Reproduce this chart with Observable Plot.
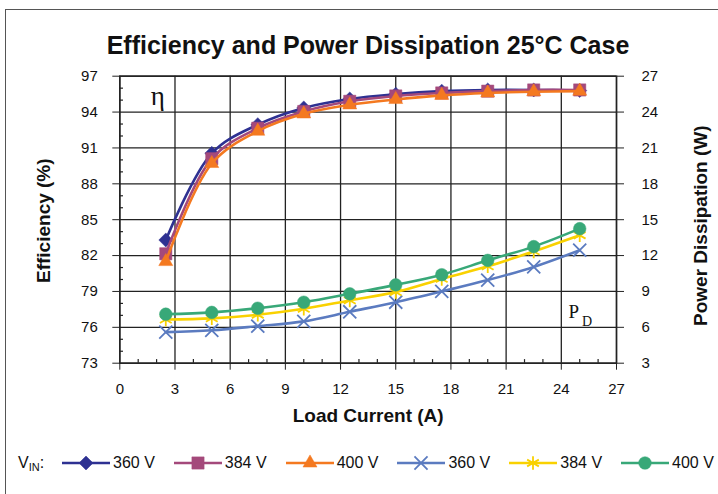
<!DOCTYPE html>
<html><head><meta charset="utf-8">
<script src="https://cdn.jsdelivr.net/npm/d3@7"></script>
<script src="https://cdn.jsdelivr.net/npm/@observablehq/plot@0.6"></script>
<style>
body{margin:0;background:#fff;font-family:"Liberation Sans",Arial,sans-serif;color:#111;}
#wrap{position:relative;width:718px;height:494px;overflow:hidden;background:#fff;}
#box{position:absolute;left:5px;top:9px;width:800px;height:600px;border:1.5px solid #555;}
#title{position:absolute;top:33px;left:0;width:736px;text-align:center;font-weight:bold;font-size:25px;line-height:25px;}
#chart{position:absolute;left:0;top:60px;}
#legend{position:absolute;left:18px;top:455px;display:flex;align-items:center;height:16px;font-size:16px;white-space:nowrap;}
#legend .vin{width:38px;margin-right:6px;}
#legend .vin sub{font-size:11px;vertical-align:-3px;}
#legend .item{display:flex;align-items:center;margin-right:19px;}
#legend .item span{margin-left:3px;}
</style></head>
<body>
<div id="wrap">
  <div id="box"></div>
  <div id="title">Efficiency and Power Dissipation 25°C Case</div>
  <div id="chart"></div>
  <div id="legend"></div>
</div>
<script>
// ---- data ----
const current = [2.5, 5, 7.5, 10, 12.5, 15, 17.5, 20, 22.5, 25];
const eff360 = [83.3, 90.55, 92.95, 94.35, 95.1, 95.5, 95.75, 95.85, 95.85, 95.8];
const eff384 = [82.15, 90.1, 92.65, 94.05, 94.9, 95.35, 95.6, 95.75, 95.85, 95.85];
const eff400 = [81.5, 89.7, 92.4, 93.85, 94.6, 95.05, 95.4, 95.6, 95.7, 95.75];
const pd360 = [5.6, 5.75, 6.1, 6.5, 7.3, 8.1, 9.0, 9.95, 11.05, 12.45];
const pd384 = [6.65, 6.75, 7.05, 7.55, 8.25, 8.95, 10.05, 11.1, 12.35, 13.7];
const pd400 = [7.1, 7.25, 7.6, 8.1, 8.8, 9.55, 10.4, 11.6, 12.75, 14.25];
const xTicks = [0, 3, 6, 9, 12, 15, 18, 21, 24, 27];
const effTicks = [73, 76, 79, 82, 85, 88, 91, 94, 97];
const pdTicks = [3, 6, 9, 12, 15, 18, 21, 24, 27];
const legendLabels = ["360 V", "384 V", "400 V", "360 V", "384 V", "400 V"];

// power dissipation axis shares the same span (24 units) as the efficiency axis
const pdOffset = effTicks[0] - pdTicks[0]; // 70

const series = [
  {label: legendLabels[0], values: eff360, kind: "eff", color: "#2E3192", symbol: d3.symbolDiamond2, r: 6.3, filled: true},
  {label: legendLabels[1], values: eff384, kind: "eff", color: "#A4497B", symbol: d3.symbolSquare, r: 6.9, filled: true},
  {label: legendLabels[2], values: eff400, kind: "eff", color: "#F47920", symbol: d3.symbolTriangle, r: 5.2, filled: true},
  {label: legendLabels[3], values: pd360, kind: "pd", color: "#5B7BC0", symbol: d3.symbolTimes, r: 6, filled: false},
  {label: legendLabels[4], values: pd384, kind: "pd", color: "#F9D100", symbol: d3.symbolAsterisk, r: 6.4, filled: false},
  {label: legendLabels[5], values: pd400, kind: "pd", color: "#38A878", symbol: d3.symbolCircle, r: 6.3, filled: true}
];

const minorY = d3.range(73, 98).filter(v => !effTicks.includes(v));
const minorX = d3.range(0, 28).filter(v => !xTicks.includes(v));

const marks = [
  Plot.gridX(xTicks, {stroke: "#222", strokeOpacity: 1, strokeWidth: 1.3}),
  Plot.gridY(effTicks, {stroke: "#222", strokeOpacity: 1, strokeWidth: 1.3}),
  Plot.ruleY(minorY, {x1: 0, x2: 0.2, stroke: "#222", strokeWidth: 1.2}),
  Plot.ruleX(minorX, {y1: effTicks[0], y2: effTicks[0] + 0.3, stroke: "#222", strokeWidth: 1.2}),
  Plot.axisX(xTicks, {tickSize: 7, tickPadding: 13, fontSize: 15, label: null, stroke: "#222"}),
  Plot.axisY(effTicks, {anchor: "left", tickSize: 7, tickPadding: 15, fontSize: 15, label: null, stroke: "#222"}),
  Plot.axisY(effTicks, {anchor: "right", tickSize: 7, tickPadding: 18, fontSize: 15, label: null, stroke: "#222",
    tickFormat: d => d - pdOffset}),
  Plot.frame({stroke: "#222", strokeWidth: 1.5})
];

for (const s of series) {
  const rows = current.map((c, i) => ({x: c, y: s.kind === "eff" ? s.values[i] : s.values[i] + pdOffset}));
  marks.push(Plot.line(rows, {x: "x", y: "y", stroke: s.color, strokeWidth: 2.6, curve: "catmull-rom"}));
  marks.push(Plot.dot(rows, {x: "x", y: "y", symbol: s.symbol, r: s.r,
    fill: s.filled ? s.color : "none", stroke: s.color, strokeWidth: s.filled ? 0.5 : 1.8}));
}

marks.push(
  Plot.text(["Efficiency (%)"], {frameAnchor: "left", textAnchor: "middle", dx: -76, dy: 1, rotate: -90, fontSize: 19, fontWeight: "bold", fill: "#111"}),
  Plot.text(["Power Dissipation (W)"], {frameAnchor: "right", textAnchor: "middle", dx: 84, dy: 6, rotate: -90, fontSize: 19, fontWeight: "bold", fill: "#111"}),
  Plot.text(["Load Current (A)"], {frameAnchor: "bottom", textAnchor: "middle", dx: 0, dy: 59, fontSize: 19, fontWeight: "bold", fill: "#111"}),
  Plot.text(["η"], {frameAnchor: "top-left", dx: 31, dy: 9.7, textAnchor: "start", fontSize: 27, fontFamily: "Liberation Serif, serif", fill: "#111"}),
  Plot.text(["P"], {frameAnchor: "bottom-right", dx: -48, dy: -44.8, textAnchor: "start", fontSize: 19, fontFamily: "Liberation Serif, serif", fill: "#111"}),
  Plot.text(["D"], {frameAnchor: "bottom-right", dx: -34.5, dy: -37.5, textAnchor: "start", fontSize: 14, fontFamily: "Liberation Serif, serif", fill: "#111"})
);

const chart = Plot.plot({
  width: 718,
  height: 380,
  marginLeft: 119.3,
  marginRight: 102,
  marginTop: 15.7,
  marginBottom: 77.3,
  x: {domain: [xTicks[0], xTicks[xTicks.length - 1]]},
  y: {domain: [effTicks[0], effTicks[effTicks.length - 1]]},
  style: {fontFamily: "Liberation Sans, Arial, sans-serif", fontSize: "15px", color: "#111", background: "transparent", overflow: "visible"},
  marks
});
document.getElementById("chart").appendChild(chart);

// ---- legend ----
const legend = d3.select("#legend");
legend.append("div").attr("class", "vin").html("V<sub>IN</sub>:");
for (const s of series) {
  const item = legend.append("div").attr("class", "item");
  const svg = item.append("svg").attr("width", 48).attr("height", 18);
  svg.append("line").attr("x1", 0).attr("x2", 48).attr("y1", 9).attr("y2", 9)
    .attr("stroke", s.color).attr("stroke-width", 2.4);
  svg.append("path").attr("transform", "translate(24,9)")
    .attr("d", d3.symbol(s.symbol, Math.PI * s.r * s.r)())
    .attr("fill", s.filled ? s.color : "none").attr("stroke", s.color).attr("stroke-width", s.filled ? 0.5 : 1.8);
  item.append("span").text(s.label);
}
</script>
</body></html>
